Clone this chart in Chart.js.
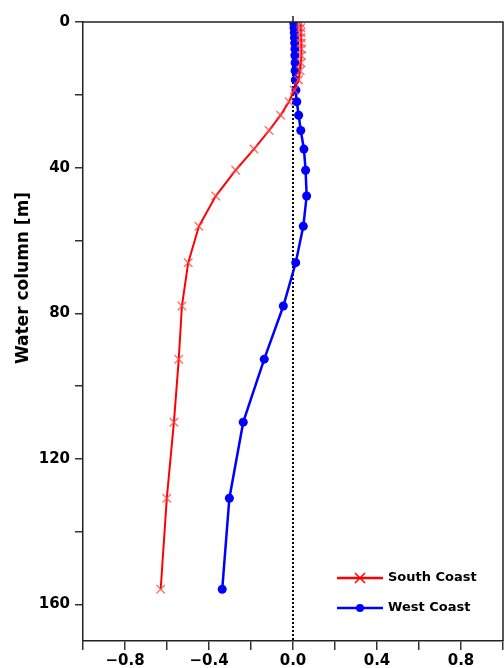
<!DOCTYPE html>
<html>
<head>
<meta charset="utf-8">
<script src="https://cdn.jsdelivr.net/npm/chart.js@4.4.1/dist/chart.umd.min.js"></script>
<style>
  body { margin: 0; background: #fff; }
  #wrap { width: 504px; height: 668px; }
</style>
</head>
<body>
<div id="wrap"><canvas id="myChart" width="504" height="668"></canvas></div>
<script>
// depth levels [m], shared by both profiles
const depths = [0.4, 1.6, 2.9, 4.3, 5.8, 7.4, 9.2, 11.2, 13.4, 15.9, 18.7, 21.9,
  25.6, 29.8, 34.9, 40.7, 47.8, 56.1, 66.1, 78.0, 92.6, 109.9, 130.8, 155.8]
const southCoast = [0.035, 0.037, 0.038, 0.038, 0.039, 0.040, 0.040, 0.038, 0.034, 0.026, 0.006, -0.019,
  -0.059, -0.114, -0.186, -0.273, -0.368, -0.448, -0.499, -0.529, -0.544, -0.567, -0.601, -0.630]
const westCoast = [0.004, 0.005, 0.006, 0.007, 0.008, 0.009, 0.009, 0.010, 0.010, 0.011, 0.014, 0.018,
  0.027, 0.037, 0.052, 0.060, 0.065, 0.049, 0.013, -0.046, -0.137, -0.237, -0.303, -0.337]
const zeroLineX = [0, 0]
const zeroLineY = [0, 170]
const seriesNames = ['South Coast', 'West Coast']
const yTitle = 'Water column [m]'

const FONT = "'DejaVu Sans', Verdana, sans-serif"

function pts(xs, ys) {
  let out = []
  for (let i = 0; i < xs.length; i++) out.push({ x: xs[i], y: ys[i] })
  return out
}

// frame on top/right, axis title, legend inside the plot
const extras = {
  id: 'extras',
  afterDraw(chart) {
    const c = chart.ctx
    const a = chart.chartArea
    c.save()
    c.strokeStyle = '#222'
    c.lineWidth = 1.5
    c.beginPath()
    c.moveTo(a.left, a.top)
    c.lineTo(a.right, a.top)
    c.lineTo(a.right, a.bottom)
    c.stroke()
    // little tick above the top at x = 0
    const x0 = chart.scales.x.getPixelForValue(0)
    c.beginPath()
    c.moveTo(x0, a.top)
    c.lineTo(x0, a.top - 6)
    c.stroke()

    c.translate(24, 278)
    c.rotate(-Math.PI / 2)
    c.fillStyle = '#000'
    c.font = 'bold 17px ' + FONT
    c.textAlign = 'center'
    c.textBaseline = 'middle'
    c.fillText(yTitle, 0, 0)
    c.restore()

    // legend
    c.save()
    c.font = 'bold 13px ' + FONT
    c.textBaseline = 'middle'
    c.fillStyle = '#000'
    const rows = [
      { y: 578, color: '#ff0000', name: seriesNames[0], mark: 'x' },
      { y: 608, color: '#0000ff', name: seriesNames[1], mark: 'o' }
    ]
    rows.forEach(r => {
      c.strokeStyle = r.color
      c.lineWidth = 2.5
      c.beginPath()
      c.moveTo(337, r.y)
      c.lineTo(383, r.y)
      c.stroke()
      if (r.mark === 'x') {
        c.lineWidth = 1.5
        c.beginPath()
        c.moveTo(355, r.y - 5); c.lineTo(365, r.y + 5)
        c.moveTo(365, r.y - 5); c.lineTo(355, r.y + 5)
        c.stroke()
      } else {
        c.fillStyle = r.color
        c.beginPath()
        c.arc(360, r.y, 4, 0, Math.PI * 2)
        c.fill()
        c.fillStyle = '#000'
      }
      c.fillText(r.name, 388, r.y)
    })
    c.restore()
  }
}

const ctx = document.getElementById('myChart').getContext('2d')
const myChart = new Chart(ctx, {
  type: 'scatter',
  data: {
    datasets: [
      {
        label: seriesNames[0],
        data: pts(southCoast, depths),
        showLine: true,
        borderColor: '#ff0000',
        borderWidth: 2,
        pointStyle: 'crossRot',
        pointRadius: 6,
        pointBorderWidth: 1.5,
        pointBorderColor: 'rgba(255, 70, 70, 0.75)',
        pointBackgroundColor: 'rgba(255, 70, 70, 0.75)',
        order: 1
      },
      {
        label: seriesNames[1],
        data: pts(westCoast, depths),
        showLine: true,
        borderColor: '#0000ff',
        borderWidth: 2.5,
        pointStyle: 'circle',
        pointRadius: 4.5,
        pointBorderWidth: 0,
        pointBackgroundColor: '#0000ff',
        order: 2
      },
      {
        label: 'zero',
        data: pts(zeroLineX, zeroLineY),
        showLine: true,
        borderColor: '#000',
        borderWidth: 2,
        borderDash: [2, 2],
        pointRadius: 0,
        order: 3
      }
    ]
  },
  options: {
    responsive: false,
    animation: false,
    layout: { autoPadding: false, padding: { top: 22, right: 1, left: 0, bottom: 0 } },
    plugins: {
      legend: { display: false },
      tooltip: { enabled: false }
    },
    scales: {
      x: {
        type: 'linear',
        min: -1,
        max: 1,
        border: { display: true, color: '#222', width: 1.5 },
        grid: { drawOnChartArea: false, drawTicks: true, tickLength: 9, color: '#333', lineWidth: 1.5 },
        ticks: {
          stepSize: 0.2,
          autoSkip: false,
          maxRotation: 0,
          padding: 2,
          color: '#000',
          font: { family: FONT, size: 15, weight: 'bold' },
          callback: function (v) {
            let k = Math.round(v * 10)
            if (k % 4 !== 0 || Math.abs(k) >= 10) return ''
            return (k / 10).toFixed(1).replace('-', '\u2212')
          }
        },
        afterFit: s => { s.height = 27; s.paddingLeft = 0; s.paddingRight = 0 }
      },
      y: {
        type: 'linear',
        reverse: true,
        min: 0,
        max: 170,
        border: { display: true, color: '#222', width: 1.5 },
        grid: { drawOnChartArea: false, drawTicks: true, tickLength: 8, color: '#333', lineWidth: 1.5 },
        ticks: {
          stepSize: 20,
          includeBounds: false,
          autoSkip: false,
          padding: 5,
          color: '#000',
          font: { family: FONT, size: 15, weight: 'bold' },
          callback: function (v) { return v % 40 === 0 ? String(v) : '' }
        },
        afterFit: s => { s.width = 83; s.paddingTop = 0; s.paddingBottom = 0 }
      }
    }
  },
  plugins: [extras]
})
</script>
</body>
</html>
